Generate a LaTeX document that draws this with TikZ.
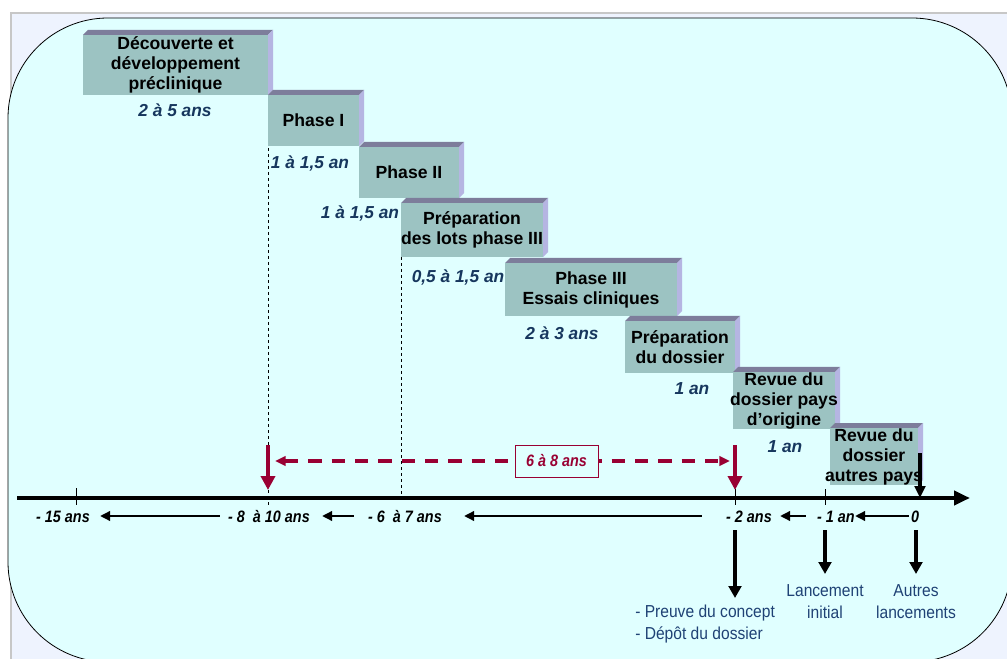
\documentclass[tikz,border=0pt]{standalone}
\usepackage{fontspec}
\setmainfont{Liberation Sans}
\newfontfamily\condfont[FakeStretch=0.87]{Liberation Sans}
\newfontfamily\narrowfont[FakeStretch=0.9]{Liberation Sans}
\usetikzlibrary{arrows.meta,calc}
\definecolor{boxfront}{HTML}{9CC3C2}
\definecolor{boxtop}{HTML}{7D7D9B}
\definecolor{boxside}{HTML}{B5B5E2}
\definecolor{innerbg}{HTML}{E0FFFF}
\definecolor{outerbg}{HTML}{EEF3FE}
\definecolor{durblue}{HTML}{17375E}
\definecolor{labblue}{HTML}{1F4275}
\definecolor{crimson}{HTML}{990033}
\newcommand\stepbox[6]{%
  \fill[boxtop] (#2,#3) -- (#2+5,#3-5) -- (#4+5,#3-5) -- (#4,#3) -- cycle;
  \fill[boxside] (#4,#3) -- (#4+5,#3-5) -- (#4+5,#5-5) -- (#4,#5) -- cycle;
  \node[boxface, minimum width={(#4-#2)*0.75pt}, minimum height={(#5-#3)*0.75pt}] (#1) at ({(#2+#4)/2},{(#3+#5)/2}) {};
  \node[boxtext] (#1-t) at (#1) {#6};
}
\begin{document}
\begin{tikzpicture}[x=0.75pt,y=-0.75pt,
  boxface/.style={fill=boxfront, inner sep=0pt, outer sep=0pt},
  boxtext/.style={font=\bfseries\fontsize{13.2}{15}\selectfont, align=center, inner sep=0pt},
  dur/.style={font=\bfseries\itshape\fontsize{13}{15}\selectfont, text=durblue, inner sep=0pt},
  axlab/.style={font=\condfont\bfseries\itshape\fontsize{12.4}{14}\selectfont, inner sep=0pt},
  botlab/.style={font=\narrowfont\fontsize{13}{16.5}\selectfont, text=labblue, align=center, inner sep=0pt},
  guide/.style={dash pattern=on 2.25pt off 2.25pt, line width=0.6pt},
  tickmark/.style={line width=0.6pt},
  axisline/.style={line width=3pt, -{Triangle[length=12pt,width=10.5pt]}},
  larrow/.style={line width=2.2pt, -{Triangle[length=7.5pt,width=7pt]}},
  redarrow/.style={draw=crimson, line width=3pt, -{Triangle[length=10.5pt,width=10.5pt]}},
  reddash/.style={draw=crimson, line width=2.3pt, dash pattern=on 10pt off 7.5pt, {Triangle[length=8pt,width=7pt]}-{Triangle[length=8pt,width=7pt]}},
  downarrow/.style={line width=3.4pt, -{Triangle[length=9pt,width=9.5pt]}},
]
\useasboundingbox (0,0) rectangle (1007,659);
\clip (0,0) rectangle (1007,659);
% frames
\fill[outerbg] (11,13) rectangle (1030,680);
\draw[black!22, line width=1.5pt] (11,690) -- (11,13) -- (1030,13);
\draw[fill=innerbg, line width=0.6pt, rounded corners=75pt] (8,18) rectangle (1012,662);
% guides
\draw[guide] (268,130) -- (268,507);
\draw[guide] (401,257) -- (401,500);
% boxes
\stepbox{dec}{83}{35}{268}{95}{Découverte et\\développement\\préclinique}
\stepbox{p1}{268}{95}{359}{146}{Phase I}
\stepbox{p2}{359}{147}{459}{198}{Phase II}
\stepbox{lots}{401}{203}{543}{257}{Préparation\\des lots phase III}
\stepbox{p3}{505}{263}{677}{316}{Phase III\\Essais cliniques}
\stepbox{dos}{625}{321}{735}{373}{Préparation\\du dossier}
\stepbox{rev1}{733}{372}{835}{429}{Revue du\\dossier pays\\d’origine}
\stepbox{rev2}{830}{428}{918}{485}{Revue du\\dossier\\autres pays}
% durations
\node[dur] (d1) at (175,110) {2 à 5 ans};
\node[dur] (d2) at (310,163) {1 à 1,5 an};
\node[dur] (d3) at (360,213) {1 à 1,5 an};
\node[dur] (d4) at (458,277) {0,5 à 1,5 an};
\node[dur] (d5) at (562,333) {2 à 3 ans};
\node[dur] (d6) at (692,389) {1 an};
\node[dur] (d7) at (785,447) {1 an};
% axis
\coordinate (ax0) at (17,498);
\coordinate (ax1) at (970,498);
\draw[axisline] (ax0) -- (ax1);
\draw[tickmark] (76,488) -- (76,505);
\draw[tickmark] (735,489) -- (735,505);
\draw[tickmark] (825,489) -- (825,505);
% red span
\coordinate (rs0) at (268,445);
\coordinate (rs0e) at (268,490);
\coordinate (rs1) at (735,445);
\coordinate (rs1e) at (735,490);
\coordinate (rdl) at (275,461);
\coordinate (rdr) at (730,461);
\draw[reddash] (rdl) -- (rdr);
\draw[redarrow] (rs0) -- (rs0e);
\draw[redarrow] (rs1) -- (rs1e);
\node[draw=crimson, fill=innerbg, line width=0.75pt, minimum width=62.25pt, minimum height=24pt, inner sep=0pt,
  font=\condfont\bfseries\itshape\fontsize{12.4}{14}\selectfont, text=crimson] (span) at (556.5,461) {6 à 8 ans};
% arrow at zero
\coordinate (z0) at (920,453);
\coordinate (z1) at (920,498);
\draw[line width=2.6pt, -{Triangle[length=9pt,width=8pt]}] (z0) -- (z1);
% axis labels
\node[axlab] (l15) at (63,517) {- 15 ans};
\node[axlab] (l8) at (269,517) {- 8~ à 10 ans};
\node[axlab] (l6) at (405,517) {- 6~ à 7 ans};
\node[axlab] (l2) at (749,517) {- 2 ans};
\node[axlab] (l1) at (836,517) {- 1 an};
\node[axlab] (l0) at (915,517) {0};
\draw[larrow] ($(l8.west)+(-8,-1)$) -- ($(l15.east)+(10,-1)$);
\draw[larrow] ($(l6.west)+(-14,-1)$) -- ($(l8.east)+(12,-1)$);
\draw[larrow] ($(l2.west)+(-24,-1)$) -- ($(l6.east)+(22,-1)$);
\draw[larrow] ($(l1.west)+(-11,-1)$) -- ($(l2.east)+(8,-1)$);
\draw[larrow] ($(l0.west)+(-2,-1)$) -- ($(l1.east)+(0,-1)$);
% bottom labels
\node[botlab, align=left, anchor=west] (proof) at (635,624) {- Preuve du concept\\- Dépôt du dossier};
\node[botlab] (launch) at (825,602) {Lancement\\initial};
\node[botlab] (other) at (916,602) {Autres\\lancements};
% bottom arrows
\coordinate (b2s) at (735,530);
\coordinate (b2e) at (735,598);
\coordinate (b1s) at (825,530);
\coordinate (b1e) at (825,574);
\coordinate (b0s) at (916,530);
\coordinate (b0e) at (916,574);
\draw[downarrow] (b2s) -- (b2e);
\draw[downarrow] (b1s) -- (b1e);
\draw[downarrow] (b0s) -- (b0e);
\end{tikzpicture}
\end{document}
